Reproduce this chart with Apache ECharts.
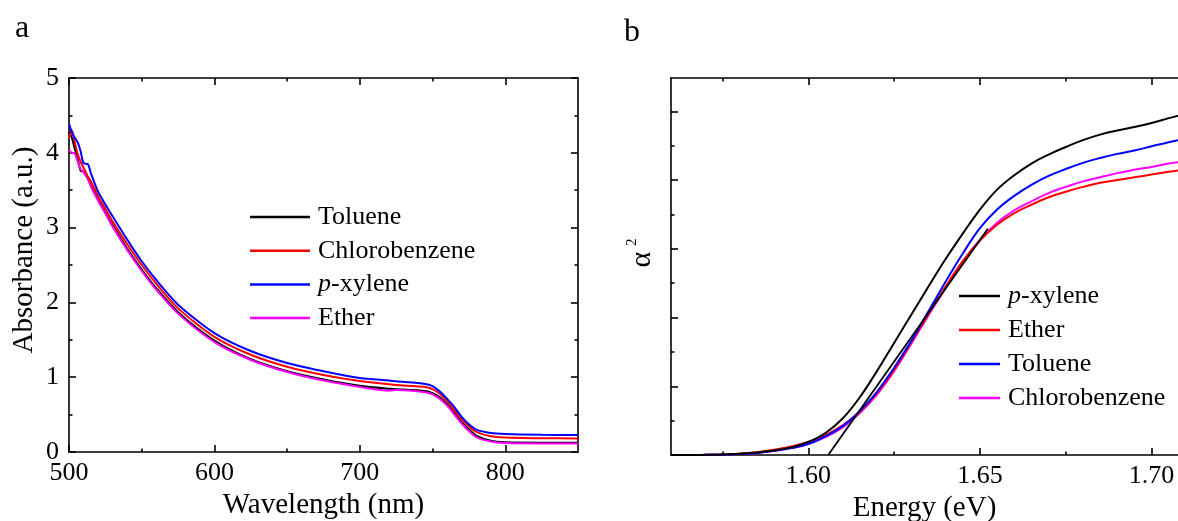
<!DOCTYPE html>
<html>
<head>
<meta charset="utf-8">
<script src="https://cdn.jsdelivr.net/npm/echarts/dist/echarts.min.js"></script>
<style>
html,body{margin:0;padding:0;background:#fff;}
#c{width:1178px;height:521px;}
</style>
</head>
<body>
<div id="c"></div>
<script>
// ---------- Panel a data ----------
const wavelength = [500,502,504,506,508,510,513,515,520,525,530,540,550,560,575,600,625,650,675,700,720,725,745,750,755,760,765,770,775,780,790,800,825,850];
const absToluene = [4.28,4.20,4.05,3.92,3.76,3.75,3.65,3.57,3.38,3.20,3.03,2.72,2.44,2.19,1.87,1.49,1.24,1.08,0.97,0.885,0.845,0.84,0.815,0.785,0.73,0.64,0.52,0.40,0.30,0.22,0.15,0.13,0.125,0.125];
const absChlorobenzene = [4.20,4.30,4.14,3.98,3.88,3.80,3.68,3.62,3.42,3.25,3.08,2.78,2.50,2.25,1.92,1.54,1.30,1.14,1.03,0.95,0.905,0.895,0.87,0.84,0.78,0.68,0.56,0.44,0.34,0.27,0.21,0.195,0.185,0.18];
const absXylene = [4.39,4.27,4.20,4.14,4.02,3.86,3.85,3.73,3.48,3.31,3.15,2.84,2.55,2.30,1.97,1.59,1.35,1.19,1.08,0.99,0.955,0.945,0.91,0.88,0.81,0.71,0.60,0.47,0.37,0.30,0.254,0.24,0.23,0.227];
const absEther = [4.03,4.00,3.99,3.88,3.78,3.74,3.66,3.55,3.36,3.19,3.01,2.70,2.42,2.17,1.85,1.47,1.23,1.07,0.955,0.87,0.82,0.83,0.80,0.77,0.71,0.62,0.50,0.38,0.28,0.20,0.14,0.12,0.115,0.115];

// ---------- Panel b data ----------
const energy = [1.560,1.565,1.570,1.575,1.580,1.585,1.590,1.595,1.600,1.605,1.610,1.615,1.620,1.625,1.630,1.635,1.640,1.645,1.650,1.655,1.660,1.665,1.670,1.675,1.680,1.685,1.690,1.695,1.700,1.705,1.708];
const a2Xylene = [0,0,0.002,0.006,0.018,0.035,0.065,0.11,0.19,0.32,0.53,0.84,1.22,1.63,2.04,2.45,2.85,3.22,3.57,3.86,4.07,4.24,4.37,4.48,4.58,4.66,4.72,4.77,4.83,4.90,4.94];
const a2Ether = [0,0.001,0.003,0.007,0.02,0.04,0.075,0.125,0.19,0.29,0.43,0.63,0.90,1.24,1.64,2.05,2.45,2.82,3.12,3.35,3.52,3.64,3.75,3.83,3.90,3.96,4.00,4.04,4.08,4.12,4.14];
const a2Toluene = [0,0,0.002,0.005,0.015,0.03,0.06,0.10,0.16,0.27,0.42,0.64,0.92,1.27,1.66,2.09,2.52,2.93,3.30,3.57,3.77,3.93,4.06,4.16,4.25,4.32,4.38,4.43,4.49,4.55,4.58];
const a2Chlorobenzene = [0,0.001,0.002,0.005,0.015,0.03,0.06,0.10,0.16,0.26,0.40,0.61,0.88,1.22,1.62,2.03,2.43,2.81,3.13,3.38,3.56,3.69,3.81,3.90,3.98,4.04,4.10,4.15,4.19,4.24,4.26];
const fitEnergy = [1.6058,1.6523];
const fitA2 = [0,3.29];

// ---------- ticks ----------
const aXMajor = [500,600,700,800];
const aXMinor = [550,650,750];
const aYMajor = [0,1,2,3,4,5];
const aYMinor = [0.5,1.5,2.5,3.5,4.5];
const bXMajor = [1.60,1.65,1.70];
const bXMinor = [1.575,1.625,1.675];
const bYMajor = [0,1,2,3,4,5];
const bYMinor = [0.5,1.5,2.5,3.5,4.5];

const FONT = 'Liberation Serif';
const zip = (xs, ys) => xs.map((x, i) => [x, ys[i]]);

function ax(o) {
  return {
    type: 'value', gridIndex: o.grid, position: o.pos, min: o.min, max: o.max,
    axisLine: {show: !!o.line, onZero: false, lineStyle: {color: '#000', width: 1.6}},
    axisTick: {show: true, inside: true, length: o.len, customValues: o.ticks, lineStyle: {color: '#000', width: 1.6}},
    axisLabel: o.labels ? {show: true, customValues: o.labels, margin: o.margin || 8, fontFamily: FONT, fontSize: 26, color: '#000', formatter: o.fmt} : {show: false},
    splitLine: {show: false},
    minorTick: {show: false},
    name: o.name || '', nameLocation: 'middle', nameGap: o.nameGap || 0,
    nameTextStyle: {fontFamily: FONT, fontSize: o.nameSize || 29, color: '#000'}
  };
}

const xAxis = [
  ax({grid:0,pos:'bottom',min:500,max:850,ticks:aXMajor,len:7,line:true,labels:aXMajor,fmt:v=>String(v),name:'Wavelength (nm)',nameGap:36}),
  ax({grid:0,pos:'bottom',min:500,max:850,ticks:aXMinor,len:3.5}),
  ax({grid:0,pos:'top',min:500,max:850,ticks:aXMajor,len:7,line:true}),
  ax({grid:0,pos:'top',min:500,max:850,ticks:aXMinor,len:3.5}),
  ax({grid:1,pos:'bottom',min:1.56,max:1.7077,ticks:bXMajor,len:7,line:true,labels:bXMajor,fmt:v=>v.toFixed(2),name:'Energy (eV)',nameGap:39}),
  ax({grid:1,pos:'bottom',min:1.56,max:1.7077,ticks:bXMinor,len:3.5}),
  ax({grid:1,pos:'top',min:1.56,max:1.7077,ticks:bXMajor,len:7,line:true}),
  ax({grid:1,pos:'top',min:1.56,max:1.7077,ticks:bXMinor,len:3.5})
];
const yAxis = [
  ax({grid:0,pos:'left',min:0,max:5,ticks:aYMajor,len:7,line:true,labels:aYMajor,fmt:v=>String(v),margin:10}),
  ax({grid:0,pos:'left',min:0,max:5,ticks:aYMinor,len:3.5}),
  ax({grid:0,pos:'right',min:0,max:5,ticks:aYMajor,len:7,line:true}),
  ax({grid:0,pos:'right',min:0,max:5,ticks:aYMinor,len:3.5}),
  ax({grid:1,pos:'left',min:0,max:5.484,ticks:bYMajor,len:7,line:true}),
  ax({grid:1,pos:'left',min:0,max:5.484,ticks:bYMinor,len:3.5})
];

function line(name, xs, ys, color, xi, yi, smooth) {
  return {
    name: name, type: 'line', xAxisIndex: xi, yAxisIndex: yi,
    data: zip(xs, ys), showSymbol: false, symbol: 'none', smooth: smooth,
    color: color, lineStyle: {color: color, width: 2}, animation: false
  };
}

const series = [
  line('a:Toluene', wavelength, absToluene, '#000000', 0, 0, 0.25),
  line('a:Ether', wavelength, absEther, '#ff00ff', 0, 0, 0.25),
  line('a:Chlorobenzene', wavelength, absChlorobenzene, '#ff0000', 0, 0, 0.25),
  line('a:p-xylene', wavelength, absXylene, '#0000ff', 0, 0, 0.25),
  line('b:Chlorobenzene', energy, a2Chlorobenzene, '#ff00ff', 4, 4, 0.4),
  line('b:Ether', energy, a2Ether, '#ff0000', 4, 4, 0.4),
  line('b:Toluene', energy, a2Toluene, '#0000ff', 4, 4, 0.4),
  line('b:p-xylene', energy, a2Xylene, '#000000', 4, 4, 0.4),
  Object.assign(line('b:fit', fitEnergy, fitA2, '#000000', 4, 4, false), {lineStyle: {color: '#000', width: 1.8}})
];

const legendText = {
  fontFamily: FONT, fontSize: 26, lineHeight: 30, color: '#000', padding: [0, 0, 0, 3],
  rich: {i: {fontFamily: FONT, fontSize: 26, lineHeight: 30, fontStyle: 'italic', color: '#000'}}
};
const fmtLegend = n => {
  const s = n.slice(2);
  return s === 'p-xylene' ? '{i|p}-xylene' : s;
};

const option = {
  animation: false,
  backgroundColor: '#fff',
  title: [
    {text: 'a', left: 10, top: 8, textStyle: {fontFamily: FONT, fontSize: 32, fontWeight: 'normal', color: '#000'}},
    {text: 'b', left: 619, top: 12, textStyle: {fontFamily: FONT, fontSize: 32, fontWeight: 'normal', color: '#000'}}
  ],
  grid: [
    {left: 69, right: 600, top: 78, bottom: 69, containLabel: false, outerBoundsMode: 'none'},
    {left: 671, right: 0, top: 78, bottom: 66, containLabel: false, outerBoundsMode: 'none'}
  ],
  legend: [
    {data: ['a:Toluene','a:Chlorobenzene','a:p-xylene','a:Ether'], orient: 'vertical', left: 245, top: 197,
     itemWidth: 60, itemHeight: 2.5, itemGap: 3.7, icon: 'rect', selectedMode: false, formatter: fmtLegend, textStyle: legendText},
    {data: ['b:p-xylene','b:Ether','b:Toluene','b:Chlorobenzene'], orient: 'vertical', left: 954, top: 276,
     itemWidth: 41, itemHeight: 2.5, itemGap: 4, icon: 'rect', selectedMode: false, formatter: fmtLegend, textStyle: legendText}
  ],
  graphic: [
    {type: 'text', x: 24, y: 250, rotation: Math.PI / 2,
     style: {text: 'Absorbance (a.u.)', align: 'center', verticalAlign: 'middle', fontFamily: FONT, fontSize: 29, fill: '#000'}},
    {type: 'text', x: 642, y: 253, rotation: Math.PI / 2,
     style: {text: '{a|α}{s|2}', align: 'center', verticalAlign: 'middle',
       rich: {a: {fontFamily: FONT, fontSize: 30, lineHeight: 34, fill: '#000'},
              s: {fontFamily: FONT, fontSize: 15, lineHeight: 15, verticalAlign: 'top', padding: [0, 0, 0, 6], fill: '#000'}}}}
  ],
  xAxis: xAxis,
  yAxis: yAxis,
  series: series
};

const chart = echarts.init(document.getElementById('c'), null, {renderer: 'canvas'});
chart.setOption(option);
</script>
</body>
</html>
